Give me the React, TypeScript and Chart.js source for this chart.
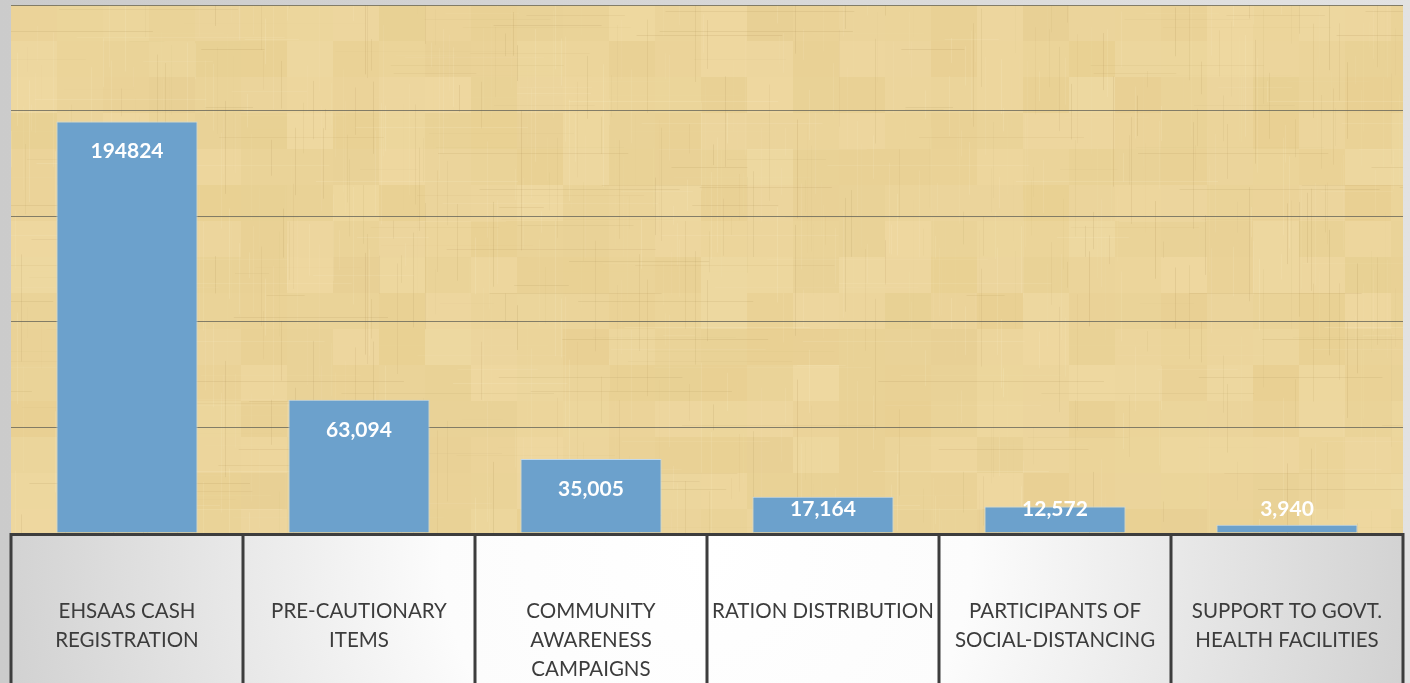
import React, { useEffect, useRef } from "react";
import { Chart, registerables } from "chart.js";

Chart.register(...registerables);

const categories: string[][] = [
  ["EHSAAS CASH", "REGISTRATION"],
  ["PRE-CAUTIONARY", "ITEMS"],
  ["COMMUNITY", "AWARENESS", "CAMPAIGNS"],
  ["RATION DISTRIBUTION"],
  ["PARTICIPANTS OF", "SOCIAL-DISTANCING"],
  ["SUPPORT TO GOVT.", "HEALTH FACILITIES"],
];
const values: number[] = [194824, 63094, 35005, 17164, 12572, 3940];
const valueLabels: string[] = ["194824", "63,094", "35,005", "17,164", "12,572", "3,940"];
const yMax = 250000;
const yStep = 50000;

const FONT = "Lato, 'Open Sans', sans-serif";

function hash(n: number): number {
  const s = Math.sin(n * 12.9898 + 78.233) * 43758.5453;
  return s - Math.floor(s);
}

const decorPlugin = {
  id: "decor",
  beforeDraw(chart: any) {
    const { ctx, width, height, chartArea } = chart;
    const a = chartArea;
    ctx.save();
    // page background
    const bg = ctx.createLinearGradient(0, 0, width, 0);
    bg.addColorStop(0, "#cbcbcb");
    bg.addColorStop(1, "#e2e2e2");
    ctx.fillStyle = bg;
    ctx.fillRect(0, 0, width, height);

    ctx.beginPath();
    ctx.rect(a.left, a.top, a.right - a.left, a.bottom - a.top);
    ctx.clip();
    // papyrus base
    ctx.fillStyle = "#ebd49a";
    ctx.fillRect(a.left, a.top, a.right - a.left, a.bottom - a.top);
    // soft patches
    const pw = 46, ph = 36;
    for (let i = 0; a.left + i * pw < a.right; i++) {
      for (let j = 0; a.top + j * ph < a.bottom; j++) {
        const h = hash(i * 31 + j * 17 + 3);
        ctx.fillStyle = h > 0.5
          ? `rgba(252,236,190,${(h - 0.5) * 0.35})`
          : `rgba(215,180,95,${(0.5 - h) * 0.22})`;
        ctx.fillRect(a.left + i * pw, a.top + j * ph, pw, ph);
      }
    }
    // vertical fibres
    for (let x = a.left; x < a.right; x += 2) {
      const h = hash(x * 1.7);
      if (h < 0.35) continue;
      ctx.fillStyle = h > 0.72 ? `rgba(160,130,70,${(h - 0.72) * 0.55})` : `rgba(255,246,215,${(h - 0.35) * 0.4})`;
      const y0 = a.top + hash(x * 3.1) * (a.bottom - a.top);
      const len = 20 + hash(x * 5.3) * 120;
      ctx.fillRect(x, y0, 1, len);
      ctx.fillRect(x, y0 - 260, 1, len * 0.8);
    }
    // horizontal fibres
    for (let y = a.top; y < a.bottom; y += 2) {
      const h = hash(y * 2.3 + 5);
      if (h < 0.35) continue;
      ctx.fillStyle = h > 0.72 ? `rgba(160,130,70,${(h - 0.72) * 0.5})` : `rgba(255,246,215,${(h - 0.35) * 0.4})`;
      const x0 = a.left + hash(y * 4.7) * (a.right - a.left);
      const len = 30 + hash(y * 6.1) * 200;
      ctx.fillRect(x0, y, len, 1);
      ctx.fillRect(x0 - 700, y, len, 1);
    }
    ctx.restore();

    ctx.save();
    // table fill
    const xs = chart.scales.x;
    const tl = xs.left, tr = xs.right;
    const rg = ctx.createRadialGradient((tl + tr) / 2, a.bottom + 20, 0, (tl + tr) / 2, a.bottom + 20, (tr - tl) / 2 + 60);
    rg.addColorStop(0, "#ffffff");
    rg.addColorStop(0.35, "#fcfcfc");
    rg.addColorStop(1, "#cdcdcd");
    ctx.fillStyle = rg;
    ctx.fillRect(tl, a.bottom, tr - tl, height - a.bottom);
    ctx.restore();
  },
  afterDatasetsDraw(chart: any) {
    const { ctx, height, chartArea } = chart;
    const xs = chart.scales.x;
    const n = chart.data.labels.length;
    ctx.save();
    // data labels
    const meta = chart.getDatasetMeta(0);
    ctx.fillStyle = "#ffffff";
    ctx.font = `bold 21px ${FONT}`;
    ctx.textAlign = "center";
    ctx.textBaseline = "middle";
    meta.data.forEach((bar: any, i: number) => {
      const y = Math.min(bar.y + 30, chartArea.bottom - 24);
      ctx.fillText(valueLabels[i], bar.x, y);
    });
    // table borders
    ctx.strokeStyle = "#3d3d3d";
    ctx.lineWidth = 3;
    const step = (xs.right - xs.left) / n;
    ctx.beginPath();
    ctx.moveTo(xs.left - 1.5, chartArea.bottom + 1.5);
    ctx.lineTo(xs.right + 1.5, chartArea.bottom + 1.5);
    for (let i = 0; i <= n; i++) {
      const x = xs.left + step * i;
      ctx.moveTo(x, chartArea.bottom + 1.5);
      ctx.lineTo(x, height);
    }
    ctx.stroke();
    ctx.restore();
  },
};

export default function App() {
  const ref = useRef<HTMLCanvasElement | null>(null);
  useEffect(() => {
    document.body.style.margin = "0";
    const canvas = ref.current!;
    const chart = new Chart(canvas, {
      type: "bar",
      data: {
        labels: categories,
        datasets: [
          {
            data: values,
            backgroundColor: "#6ca1cc",
            borderColor: "#c2d9ec",
            borderWidth: 1,
            barPercentage: 0.608,
            categoryPercentage: 1,
          },
        ],
      },
      options: {
        animation: false,
        responsive: false,
        layout: { padding: { left: 11, right: 7, top: 5, bottom: 0 } },
        plugins: { legend: { display: false }, tooltip: { enabled: false } },
        scales: {
          x: {
            grid: { display: false, drawTicks: false },
            border: { display: false },
            ticks: {
              autoSkip: false,
              maxRotation: 0,
              minRotation: 0,
              padding: 64,
              color: "#3c3c3c",
              font: { family: FONT, size: 20.5, lineHeight: 1.42 },
            },
            afterFit(scale: any) {
              scale.height = 150;
              scale.paddingLeft = 0;
              scale.paddingRight = 0;
            },
          },
          y: {
            min: 0,
            max: yMax,
            ticks: { display: false, stepSize: yStep },
            grid: { color: "rgba(95,95,85,0.75)", lineWidth: 1, drawTicks: false },
            border: { display: false },
            afterFit(scale: any) {
              scale.width = 0;
            },
          },
        },
      },
      plugins: [decorPlugin],
    });
    return () => chart.destroy();
  }, []);
  return <canvas ref={ref} width={1410} height={683} style={{ display: "block" }} />;
}
